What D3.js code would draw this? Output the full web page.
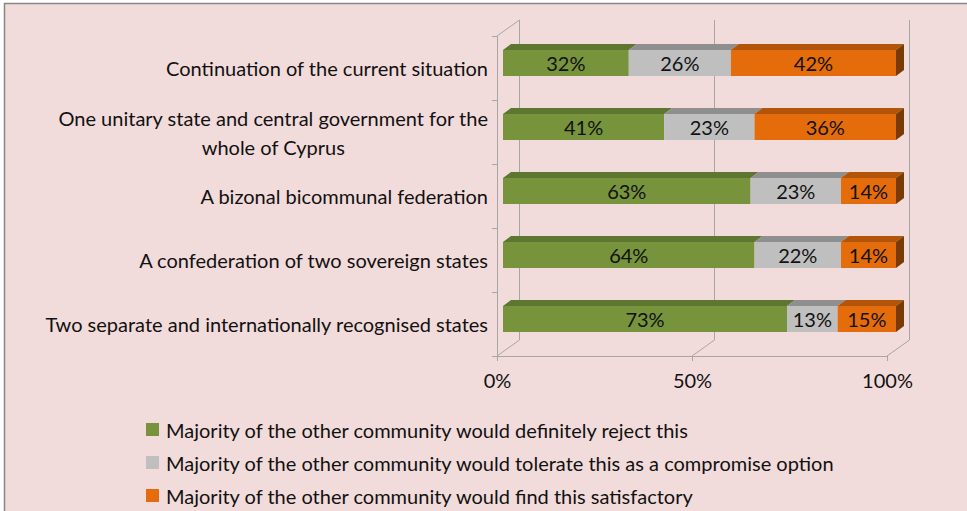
<!DOCTYPE html>
<html lang="en">
<head>
<meta charset="UTF-8">
<title>Cyprus solutions</title>
<script src="https://cdn.jsdelivr.net/npm/d3@7"></script>
<style>
  body { margin: 0; background: #fff; }
  svg text { font-family: Lato, "Liberation Sans", sans-serif; fill: #111; }
  .axis path, .axis line { stroke: #a6a6a6; fill: none; }
</style>
</head>
<body>
<script>
// data
const categories = [
  "Continuation of the current situation",
  "One unitary state and central government for the whole of Cyprus",
  "A bizonal bicommunal federation",
  "A confederation of two sovereign states",
  "Two separate and internationally recognised states"
];
const seriesNames = [
  "Majority of the other community would definitely reject this",
  "Majority of the other community would tolerate this as a compromise option",
  "Majority of the other community would find this satisfactory"
];
const reject = [32, 41, 63, 64, 73];
const tolerate = [26, 23, 23, 22, 13];
const satisfactory = [42, 36, 14, 14, 15];
const xTicks = [0, 0.5, 1];

const keys = ["reject", "tolerate", "satisfactory"];
const front = { reject: "#77933c", tolerate: "#bfbfbf", satisfactory: "#e46c0a" };
const top_ = { reject: "#5f7631", tolerate: "#8f8f8f", satisfactory: "#b2540a" };
const side = { reject: "#4a5c26", tolerate: "#7a7a7a", satisfactory: "#7a3a05" };

const rows = categories.map((c, i) => ({
  cat: c, reject: reject[i], tolerate: tolerate[i], satisfactory: satisfactory[i]
}));

const W = 967, H = 511;
const FS = "20px";
const svg = d3.select("body").append("svg").attr("width", W).attr("height", H);

// chart area background + border
svg.append("rect")
  .attr("x", 4.5).attr("y", 3.5).attr("width", 1000).attr("height", 600)
  .attr("fill", "#f2dcdb").attr("stroke", "#878787").attr("stroke-width", 1.5);

// 3D geometry
const depth = { dx: 22.5, dy: -16 };
const x = d3.scaleLinear().domain([0, 1]).range([497, 887]);      // front plane
const xBar = d3.scaleLinear().domain([0, 1]).range([503, 896]);   // bar front face
const y = d3.scaleBand().domain(categories).range([36, 356]).padding(0);
const yEdge = d3.scaleLinear().domain([0, categories.length]).range([36, 356]);
const barH = 26, barLift = 5, topDx = 8, topDy = -6;

const grid = svg.append("g").attr("stroke", "#a6a6a6").attr("fill", "none");
// back wall verticals
xTicks.forEach(t => {
  grid.append("line")
    .attr("x1", x(t) + depth.dx).attr("x2", x(t) + depth.dx)
    .attr("y1", y.range()[0] + depth.dy).attr("y2", y.range()[1] + depth.dy);
  // floor diagonals
  grid.append("line")
    .attr("x1", x(t)).attr("y1", y.range()[1])
    .attr("x2", x(t) + depth.dx).attr("y2", y.range()[1] + depth.dy);
});
// side wall top diagonal
grid.append("line")
  .attr("x1", x(0)).attr("y1", y.range()[0])
  .attr("x2", x(0) + depth.dx).attr("y2", y.range()[0] + depth.dy);

// stacked (normalised, like Excel 100% stacked)
const stack = d3.stack().keys(keys).offset(d3.stackOffsetExpand);
const series = stack(rows);

const bars = svg.append("g");
series.forEach((s, si) => {
  const key = s.key;
  s.forEach(d => {
    const cat = d.data.cat;
    const yc = y(cat) + y.bandwidth() / 2 - barLift;
    const y0 = yc - barH / 2;
    const xa = xBar(d[0]), xb = xBar(d[1]);
    // top face
    bars.append("path")
      .attr("d", `M${xa},${y0}L${xa + topDx},${y0 + topDy}L${xb + topDx},${y0 + topDy}L${xb},${y0}Z`)
      .attr("fill", top_[key]);
    // front face
    bars.append("rect")
      .attr("x", xa).attr("y", y0).attr("width", xb - xa).attr("height", barH)
      .attr("fill", front[key]);
    if (si === series.length - 1) {
      bars.append("path")
        .attr("d", `M${xb},${y0}L${xb + topDx},${y0 + topDy}L${xb + topDx},${y0 + topDy + barH}L${xb},${y0 + barH}Z`)
        .attr("fill", side[key]);
    }
    bars.append("text")
      .attr("x", (xa + xb) / 2).attr("y", yc)
      .attr("text-anchor", "middle").attr("dominant-baseline", "central")
      .style("font-size", FS)
      .text(d.data[key] + "%");
  });
});

// left (category) axis with ticks at band edges
svg.append("g").attr("class", "axis")
  .attr("transform", `translate(${x(0)},0)`)
  .call(d3.axisLeft(yEdge).ticks(categories.length).tickSize(5).tickFormat(""));

// bottom axis
svg.append("g").attr("class", "axis")
  .attr("transform", `translate(0,${y.range()[1]})`)
  .call(d3.axisBottom(x).tickValues(xTicks).tickSize(5).tickFormat(d3.format(".0%")))
  .call(g => g.selectAll("text").attr("dy", "1.2em").style("font-size", FS).attr("fill", "#111"));

// category labels, wrapped and centred as a block, right edge at 488
const labelG = svg.append("g");
const maxW = 455, lineH = 29;
categories.forEach(c => {
  const t = labelG.append("text").style("font-size", FS).attr("text-anchor", "middle");
  const words = c.split(" ");
  let lines = [], cur = [];
  const probe = svg.append("text").style("font-size", FS);
  words.forEach(w => {
    probe.text(cur.concat(w).join(" "));
    if (probe.node().getComputedTextLength() > maxW && cur.length) { lines.push(cur.join(" ")); cur = [w]; }
    else cur.push(w);
  });
  lines.push(cur.join(" "));
  const widths = lines.map(l => { probe.text(l); return probe.node().getComputedTextLength(); });
  probe.remove();
  const blockW = d3.max(widths);
  const cx = 488 - blockW / 2;
  const yc = y(c) + y.bandwidth() / 2;
  lines.forEach((l, i) => {
    t.append("tspan").attr("x", cx)
      .attr("y", yc + (i - (lines.length - 1) / 2) * lineH)
      .attr("dominant-baseline", "central").text(l);
  });
});

// legend
const legend = svg.append("g").attr("transform", "translate(146,423)");
seriesNames.forEach((n, i) => {
  const g = legend.append("g").attr("transform", `translate(0,${i * 33})`);
  g.append("rect").attr("width", 13).attr("height", 13).attr("fill", front[keys[i]]);
  g.append("text").attr("x", 20).attr("y", 7).attr("dominant-baseline", "central")
    .style("font-size", FS).text(n);
});
</script>
</body>
</html>
